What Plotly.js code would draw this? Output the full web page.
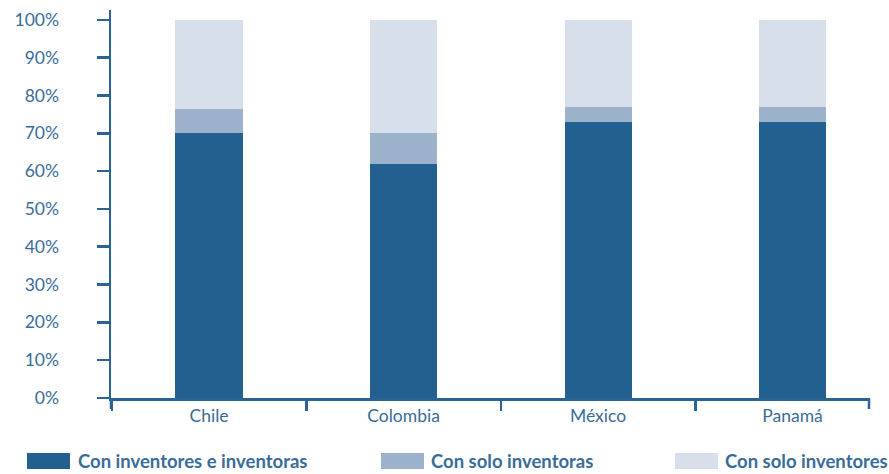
<!DOCTYPE html>
<html>
<head>
<meta charset="utf-8">
<script src="https://cdn.plot.ly/plotly-3.0.1.min.js"></script>
<style>html,body{margin:0;padding:0;background:#fff;}#chart{width:889px;height:474px;}</style>
</head>
<body>
<div id="chart"></div>
<script>
const categories = ['Chile', 'Colombia', 'México', 'Panamá'];
const seriesNames = ['Con inventores e inventoras', 'Con solo inventoras', 'Con solo inventores'];
const conInventoresEInventoras = [70, 62, 73, 73];
const conSoloInventoras = [6.5, 8, 4, 4];
const conSoloInventores = [23.5, 30, 23, 23];
const yTickValues = [0, 10, 20, 30, 40, 50, 60, 70, 80, 90, 100];

const colors = ['#22618f', '#9bb2ca', '#d7dfea'];
const axisColor = '#2a6496';
const textColor = '#3a6c9a';
const seriesValues = [conInventoresEInventoras, conSoloInventoras, conSoloInventores];

const traces = seriesValues.map((vals, i) => ({
  type: 'bar',
  name: seriesNames[i],
  x: categories,
  y: vals,
  width: 0.345,
  marker: {color: colors[i], line: {width: 0}},
  hoverinfo: 'x+y+name'
}));

// legend drawn as swatches + labels (large rectangular swatches as in reference)
const legendSwatchX = [-84, 270, 564];
const legendTextX = [-35, 318, 612];
const shapes = [];
const annotations = [];
seriesNames.forEach((n, i) => {
  shapes.push({
    type: 'rect', xref: 'paper', yref: 'paper',
    xsizemode: 'pixel', ysizemode: 'pixel', xanchor: 0, yanchor: 0,
    x0: legendSwatchX[i], x1: legendSwatchX[i] + 43, y0: -55, y1: -71,
    fillcolor: colors[i], line: {width: 0}
  });
  annotations.push({
    xref: 'paper', yref: 'paper', x: 0, y: 0,
    xshift: legendTextX[i], yshift: -63,
    xanchor: 'left', yanchor: 'middle', showarrow: false,
    text: n,
    font: {family: 'Lato, sans-serif', size: 18.5, color: textColor, weight: 'bold'}
  });
});
// axis line extensions (ends of the category axis)
shapes.push({type: 'line', xref: 'paper', yref: 'paper', ysizemode: 'pixel', yanchor: 0,
  x0: 0, x1: 0, y0: 0, y1: -11, line: {color: axisColor, width: 2.5}});
shapes.push({type: 'line', xref: 'paper', yref: 'paper', ysizemode: 'pixel', yanchor: 0,
  x0: 1, x1: 1, y0: 0, y1: -11, line: {color: axisColor, width: 2.5}});

const layout = {
  width: 889, height: 474,
  margin: {l: 111, r: 20, t: 10, b: 76},
  barmode: 'stack',
  showlegend: false,
  paper_bgcolor: '#ffffff',
  plot_bgcolor: '#ffffff',
  font: {family: 'Lato, sans-serif', color: textColor, size: 17.5},
  xaxis: {
    type: 'category',
    range: [-0.504, 3.393],
    showgrid: false, zeroline: false,
    showline: true, linecolor: axisColor, linewidth: 2.5,
    ticks: 'outside', tickson: 'boundaries', ticklen: 10, tickwidth: 2.5, tickcolor: axisColor,
    tickfont: {family: 'Lato, sans-serif', size: 17.5, color: textColor}
  },
  yaxis: {
    range: [0, 102.6],
    tickvals: yTickValues,
    ticktext: yTickValues.map(v => v + '%'),
    showgrid: false, zeroline: false,
    showline: true, linecolor: axisColor, linewidth: 2.5,
    ticks: 'outside', ticklen: 12, tickwidth: 2.5, tickcolor: axisColor,
    ticklabelstandoff: 34,
    tickfont: {family: 'Lato, sans-serif', size: 17.5, color: textColor}
  },
  shapes: shapes,
  annotations: annotations
};

Plotly.newPlot('chart', traces, layout, {displayModeBar: false, staticPlot: true});
</script>
</body>
</html>
